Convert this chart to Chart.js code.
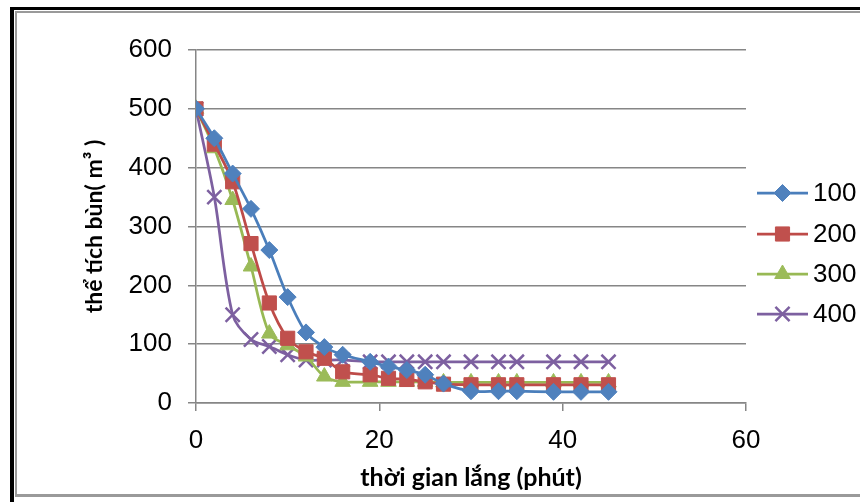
<!DOCTYPE html>
<html>
<head>
<meta charset="utf-8">
<script src="https://cdn.jsdelivr.net/npm/chart.js@4"></script>
<style>
  html,body{margin:0;padding:0;background:#fff;}
  #wrap{position:relative;width:860px;height:502px;overflow:hidden;background:#fff;}
  #frameOuter{position:absolute;left:10px;top:7px;width:870px;height:500px;border-left:4px solid #000;border-top:3px solid #000;box-sizing:border-box;}
  #frameInner{position:absolute;left:15px;top:11px;width:870px;height:486px;border-left:2px solid #9a9a9a;border-top:2px solid #9a9a9a;border-bottom:3px solid #9a9a9a;box-sizing:border-box;}
  canvas{position:absolute;left:0;top:0;}
</style>
</head>
<body>
<div id="wrap">
  <div id="frameOuter"></div>
  <div id="frameInner"></div>
  <canvas id="c" width="860" height="502"></canvas>
</div>
<script>
const times = [0,2,4,6,8,10,12,14,16,19,21,23,25,27,30,33,35,39,42,45];
const s100 = [500,450,390,330,260,180,120,95,82,70,62,56,48,33,20,20,20,19,19,19];
const s200 = [500,440,376,271,170,110,87,76,53,48,42,40,36,32,31,31,31,31,31,31];
const s300 = [500,433,345,232,118,98,79,45,36,36,36,36,36,35,35,35,35,35,35,35];
const s400 = [500,350,150,108,96,82,73,73,73,70,70,70,70,70,70,70,70,70,70,70];
const seriesNames = ['100','200','300','400'];
const xTicks = [0,20,40,60];
const yTicks = [0,100,200,300,400,500,600];

const toXY = arr => arr.map((v,i)=>({x:times[i], y:v}));

const styles = [
  {line:'#4A7EBB', fill:'#4F81BD', pt:'rectRot', r:8.5, bw:1},
  {line:'#BE4B48', fill:'#C0504D', pt:'rect', r:10, bw:1},
  {line:'#98B954', fill:'#9BBB59', pt:'triangle', r:9, bw:1},
  {line:'#7D60A0', fill:'#8064A2', pt:'crossRot', r:10, bw:2.5},
];
const allData = [s100,s200,s300,s400];

const datasets = allData.map((d,i)=>({
  label: seriesNames[i],
  data: toXY(d),
  borderColor: styles[i].line,
  backgroundColor: styles[i].fill,
  pointStyle: styles[i].pt,
  pointRadius: styles[i].r,
  pointBorderColor: i===3 ? styles[i].line : styles[i].fill,
  pointBackgroundColor: styles[i].fill,
  pointBorderWidth: styles[i].bw,
  borderWidth: 2.75,
  tension: 0.3,
  fill: false
}));

const legendPlugin = {
  id:'customLegend',
  afterDraw(chart){
    const ctx = chart.ctx;
    const x0 = 757, x1 = 808;
    const ys = [193, 234, 274, 314];
    chart.data.datasets.forEach((ds,i)=>{
      const y = ys[i];
      ctx.save();
      ctx.strokeStyle = ds.borderColor;
      ctx.lineWidth = 2.75;
      ctx.beginPath(); ctx.moveTo(x0,y); ctx.lineTo(x1,y); ctx.stroke();
      ctx.fillStyle = ds.pointBackgroundColor;
      ctx.strokeStyle = ds.pointBorderColor;
      ctx.lineWidth = ds.pointBorderWidth;
      Chart.helpers.drawPoint(ctx, {
        pointStyle: ds.pointStyle, radius: ds.pointRadius, rotation:0,
        borderWidth: ds.pointBorderWidth
      }, (x0+x1)/2, y);
      ctx.fillStyle = '#000';
      ctx.font = '26px "Liberation Sans", Arial, sans-serif';
      ctx.textBaseline = 'middle';
      ctx.fillText(ds.label, 813, y+1);
      ctx.restore();
    });
  }
};

new Chart(document.getElementById('c'), {
  type:'line',
  data:{datasets},
  options:{
    responsive:false,
    animation:false,
    layout:{padding:{left:81,right:114,top:50,bottom:9}},
    plugins:{legend:{display:false}, tooltip:{enabled:false}},
    scales:{
      x:{
        type:'linear', min:0, max:60,
        afterBuildTicks(s){ s.ticks = xTicks.map(v=>({value:v})); },
        afterFit(s){ s.height = 90; },
        grid:{drawOnChartArea:false, drawTicks:true, tickLength:8, color:'#868686', lineWidth:1.5},
        border:{display:true, color:'#868686', width:1.5},
        ticks:{padding:14, color:'#000', font:{family:'"Liberation Sans", Arial, sans-serif', size:26}},
        title:{display:true, text:'thời gian lắng (phút)', color:'#000',
          font:{family:'Lato, "Open Sans", sans-serif', size:25, weight:'bold'}, padding:{top:0,bottom:0}}
      },
      y:{
        type:'linear', min:0, max:600,
        afterBuildTicks(s){ s.ticks = yTicks.map(v=>({value:v})); },
        afterFit(s){ s.width = 115; },
        grid:{drawOnChartArea:true, drawTicks:true, tickLength:8, color:'#868686', lineWidth:1.5},
        border:{display:true, color:'#868686', width:1.5},
        ticks:{padding:16, color:'#000', font:{family:'"Liberation Sans", Arial, sans-serif', size:26}},
        title:{display:true, text:'thể tích bùn( m³ )', color:'#000',
          font:{family:'Lato, "Open Sans", sans-serif', size:23, weight:'bold'}, padding:{top:0,bottom:0}}
      }
    }
  },
  plugins:[legendPlugin]
});
</script>
</body>
</html>
